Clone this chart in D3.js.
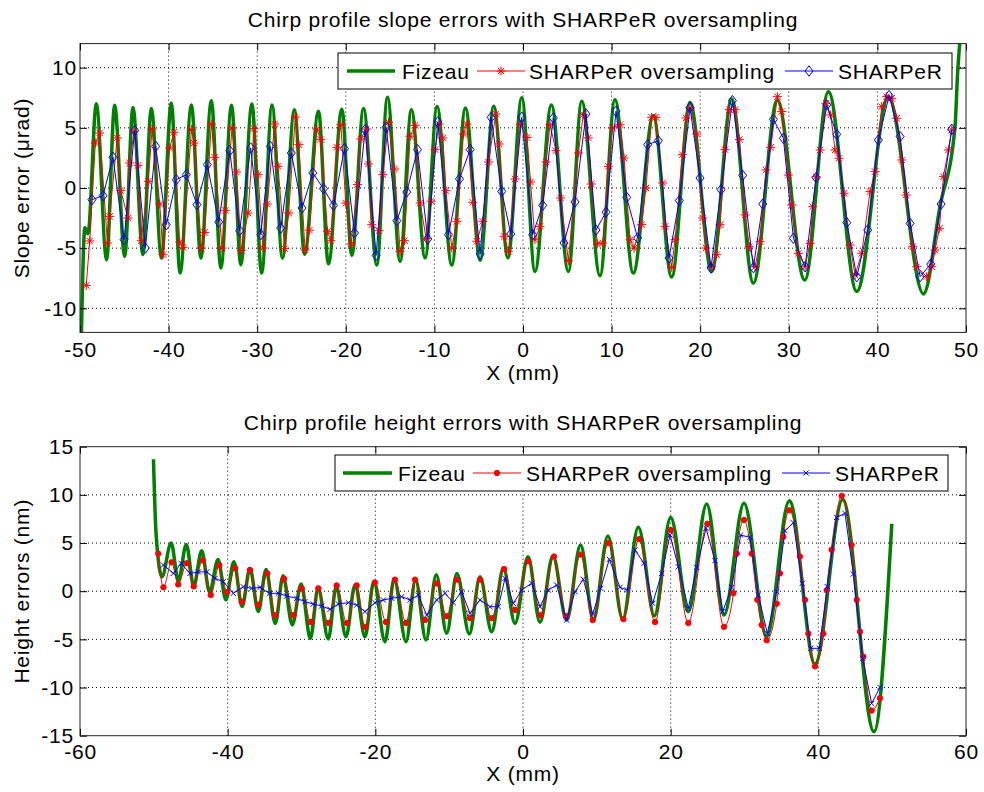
<!DOCTYPE html>
<html>
<head>
<meta charset="utf-8">
<script src="https://cdn.jsdelivr.net/npm/d3@7"></script>
<style>
  body { margin: 0; background: #fff; }
  svg text { font-family: "Liberation Sans", Arial, sans-serif; fill: #000; letter-spacing: 0.8px; }
</style>
</head>
<body>
<div id="chart-area"></div>
<script>

// ---- slope panel (top) ----
const slopeXTicks = [-50, -40, -30, -20, -10, 0, 10, 20, 30, 40, 50]
const slopeYTicks = [-10, -5, 0, 5, 10]

// Fizeau: turning points of the measured chirp [x mm, slope µrad]
const slopeFizeau = [
  [-49.85,-12.5],[-49.45,-3.3],[-49.1,-3.8],[-48.16,7.0],[-47.0,-5.96],[-46.09,6.87],[-44.96,-5.68],
  [-44.02,6.7],[-42.9,-5.54],[-41.95,6.6],[-40.8,-5.82],[-39.7,7.07],[-38.7,-7.07],[-37.43,6.9],
  [-36.35,-5.82],[-35.18,7.26],[-34.1,-6.65],[-32.9,6.87],[-31.85,-6.37],[-30.6,6.98],[-29.5,-7.07],
  [-28.33,6.9],[-27.15,-5.82],[-25.8,6.5],[-24.65,-5.5],[-23.08,6.37],[-21.96,-6.3],[-20.45,6.55],
  [-19.32,-5.6],[-18.0,6.6],[-16.5,-6.4],[-15.3,7.54],[-13.87,-6.1],[-12.6,6.5],[-11.05,-5.8],
  [-9.7,6.77],[-8.04,-6.4],[-6.5,6.64],[-4.84,-6.0],[-3.3,6.8],[-1.7,-5.8],[-0.14,7.5],[1.35,-6.93],
  [3.2,6.9],[5.12,-6.93],[6.63,7.2],[8.69,-7.3],[10.38,7.34],[12.45,-7.07],[14.7,6.0],[16.78,-7.4],
  [18.85,7.1],[21.3,-6.93],[23.55,7.4],[26.0,-7.9],[28.7,7.3],[31.8,-7.65],[34.47,8.0],[37.67,-8.6],
  [41.24,7.6],[45.2,-8.8],[47.07,-1.5],[48.76,5.1],[49.05,9.5],[49.4,13]
]

// SHARPeR oversampling samples
const slopeOversampled = [
  [-49.3,-8.1],[-48.9,-4.4],[-48.27,3.74],[-47.78,4.57],[-46.9,-4.57],[-46.65,-2.36],[-45.8,4.16],
  [-45.4,-0.22],[-44.58,-2.5],[-44.4,2.08],[-43.9,4.71],[-43.45,1.88],[-43.08,-4.38],[-42.3,0.55],
  [-41.87,4.9],[-41.0,-1.33],[-40.63,-5.54],[-39.88,3.33],[-39.4,4.63],[-38.75,-4.49],[-38.37,-4.93],
  [-37.43,4.85],[-37.13,3.74],[-36.3,-4.99],[-35.93,-3.69],[-35.18,5.32],[-34.8,2.55],[-33.97,-4.99],
  [-33.6,-1.86],[-32.84,4.99],[-32.35,1.33],[-31.79,-5.18],[-31.04,-2.08],[-30.36,4.93],[-29.9,1.11],
  [-29.35,-4.99],[-28.86,-1.33],[-28.03,5.32],[-27.65,1.8],[-26.9,-5.04],[-26.45,-2.08],[-25.7,5.9],
  [-25.3,3.6],[-24.6,-5.15],[-24.1,-3.5],[-23.27,4.9],[-22.82,4.02],[-22.07,-3.6],[-21.69,-4.38],
  [-21.0,3.38],[-20.56,5.26],[-20.0,-1.25],[-19.4,-4.65],[-18.68,0.28],[-18.31,4.07],[-17.7,4.9],
  [-17.44,2.0],[-17.07,-3.05],[-16.24,-3.55],[-15.82,1.11],[-15.18,5.46],[-14.5,1.58],[-13.87,-5.26],
  [-13.38,-4.38],[-12.74,4.3],[-12.18,5.21],[-11.6,-1.25],[-10.93,-4.21],[-10.37,-1.1],[-9.92,3.19],
  [-9.47,5.32],[-9.05,4.16],[-8.71,-0.22],[-8.04,-4.99],[-7.47,-2.77],[-6.72,4.49],[-6.34,5.32],
  [-5.67,-1.19],[-5.21,-4.43],[-4.54,-2.77],[-3.9,2.16],[-3.07,6.15],[-2.69,3.66],[-2.13,-4.02],
  [-1.64,-5.26],[-0.89,0.75],[-0.3,5.3],[0.45,4.2],[0.85,0.5],[1.35,-4.3],[1.92,-3.19],[2.6,2.16],
  [3.05,5.26],[3.72,3.1],[4.25,-0.83],[5.12,-6.04],[6.25,2.91],[6.8,6.1],[7.37,4.16],[7.7,0.33],
  [8.39,-4.65],[9.0,-4.57],[9.63,1.8],[10.12,4.99],[10.95,5.26],[11.4,2.49],[12.08,-4.3],[12.53,-4.99],
  [13.39,-3.05],[13.88,0.0],[14.52,5.87],[15.0,5.87],[15.76,0.42],[16.03,-3.19],[16.78,-6.59],
  [17.16,-4.3],[17.98,2.77],[18.4,5.82],[18.85,6.65],[19.6,4.49],[20.28,-2.49],[20.65,-4.99],
  [21.3,-6.51],[21.86,-5.54],[22.24,-3.05],[22.8,3.19],[23.29,6.51],[23.93,6.51],[24.42,4.02],
  [25.06,-2.24],[25.55,-4.88],[26.2,-6.54],[26.76,-4.46],[27.43,1.5],[27.96,3.38],[28.71,7.59],
  [29.2,6.35],[29.95,1.08],[30.33,-1.41],[31.08,-5.43],[31.84,-6.54],[32.4,-4.6],[32.7,-1.55],
  [33.08,0.94],[33.53,3.16],[34.2,7.04],[34.73,6.07],[35.22,3.16],[35.67,2.47],[36.24,-0.44],
  [36.91,-4.74],[37.48,-7.23],[38.23,-5.43],[39.17,-0.3],[39.74,1.36],[40.49,6.76],[41.05,7.59],
  [41.62,7.45],[42.18,5.79],[42.75,2.33],[43.24,-0.58],[43.99,-4.88],[44.44,-6.54],[45.57,-7.37],
  [46.13,-6.54],[46.51,-5.15],[47.0,-3.35],[47.45,0.94],[48.01,3.16],[48.39,4.82]
]

// SHARPeR (no oversampling) samples
const slopeSharper = [
  [-48.65,-0.97],[-47.4,-0.64],[-46.28,2.55],[-45.03,-4.29],[-43.83,4.79],[-42.63,-4.99],[-41.46,3.46],
  [-40.26,-3.05],[-39.13,0.69],[-38.0,1.11],[-36.8,-1.39],[-35.63,1.94],[-34.35,-2.83],[-33.1,3.1],
  [-31.98,-3.55],[-30.74,3.33],[-29.6,-3.88],[-28.52,3.46],[-27.35,-3.33],[-26.15,2.91],[-24.94,-1.66],
  [-23.72,1.25],[-22.52,-0.06],[-21.39,-1.44],[-20.15,3.27],[-19.02,-3.74],[-17.82,4.85],[-16.58,-5.6],
  [-15.45,5.04],[-14.24,-2.72],[-13.12,-0.33],[-11.91,3.19],[-10.75,-4.24],[-9.62,5.49],[-8.41,-3.88],
  [-7.17,0.75],[-5.97,3.19],[-4.84,-5.49],[-3.6,5.87],[-2.4,-0.28],[-1.38,-3.82],[-0.14,5.87],
  [1.09,-3.88],[2.22,-1.44],[3.42,5.82],[4.63,-4.57],[5.87,-1.16],[7.11,6.15],[8.24,-3.49],[9.37,-2.0],
  [10.5,6.37],[11.7,-0.78],[12.94,-4.16],[14.07,3.6],[15.27,3.93],[16.48,-5.82],[17.64,-1.05],
  [18.85,6.7],[19.98,0.83],[21.22,-6.65],[22.35,-0.14],[23.63,7.26],[24.79,1.05],[26.0,-6.62],
  [27.06,-1.33],[28.26,5.71],[29.39,4.13],[30.52,-4.18],[31.84,-6.54],[33.08,0.86],[34.28,6.9],
  [35.41,4.46],[36.54,-2.88],[37.67,-7.37],[38.91,-3.49],[40.11,3.99],[41.32,7.68],[42.56,4.27],
  [43.69,-2.94],[44.82,-7.37],[46.02,-6.32],[47.19,-1.33],[48.39,4.88]
]

// ---- height panel (bottom) ----
const heightXTicks = [-60, -40, -20, 0, 20, 40, 60]
const heightYTicks = [-15, -10, -5, 0, 5, 10, 15]

const heightFizeau = [
  [-50.05,13.7],[-49.7,6.0],[-48.9,1.5],[-47.66,5.0],[-46.67,1.1],[-45.6,4.85],[-44.6,0.5],[-43.52,4.2],
  [-42.45,-0.1],[-41.3,3.3],[-40.25,-0.9],[-39.15,3.07],[-38.05,-1.6],[-36.98,2.35],[-35.85,-2.1],
  [-34.8,2.25],[-33.55,-3.34],[-32.5,1.6],[-31.25,-3.5],[-30.05,0.75],[-28.8,-4.9],[-27.75,0.35],
  [-26.37,-4.95],[-25.3,0.45],[-23.97,-4.72],[-22.75,0.64],[-21.4,-4.72],[-20.2,1.0],[-18.69,-5.24],
  [-17.45,1.3],[-15.85,-5.24],[-14.55,1.2],[-13.14,-5.07],[-11.75,1.7],[-10.34,-4.37],[-8.95,1.85],
  [-7.27,-4.44],[-5.82,1.5],[-4.24,-4.2],[-2.66,2.4],[-1.08,-3.34],[0.68,3.58],[2.3,-3.23],[4.05,3.65],
  [5.91,-3.0],[7.8,4.8],[9.53,-2.99],[11.5,5.73],[13.5,-2.92],[15.62,6.65],[17.79,-2.57],[20.0,7.66],
  [22.39,-2.12],[24.88,9.05],[27.22,-2.47],[29.93,9.12],[33.0,-4.72],[36.07,9.4],[39.55,-7.56],
  [43.3,9.53],[47.54,-14.58],[49.95,7.0]
]

const heightOversampled = [
  [-49.4,3.9],[-48.7,0.4],[-47.6,3.0],[-46.7,0.7],[-45.55,2.9],[-44.6,0.5],[-43.4,3.2],[-42.3,-0.4],
  [-41.13,2.7],[-40.1,-0.1],[-39.0,2.4],[-38.1,-1.1],[-36.98,2.2],[-35.85,-1.4],[-34.63,1.85],
  [-33.6,-2.5],[-32.37,1.3],[-31.1,-2.5],[-29.98,0.3],[-28.76,-3.2],[-27.72,0.3],[-26.37,-3.3],
  [-25.24,0.6],[-23.88,-3.3],[-22.53,0.6],[-21.4,-3.7],[-20.05,0.9],[-18.55,-3.2],[-17.34,1.2],
  [-15.85,-3.3],[-14.63,1.2],[-13.27,-3.0],[-11.69,0.8],[-10.34,-2.6],[-8.98,1.2],[-7.18,-2.8],
  [-5.82,1.2],[-4.24,-2.8],[-2.57,2.3],[-1.08,-1.95],[0.72,3.1],[2.39,-2.5],[4.2,3.6],[5.82,-2.6],
  [7.8,3.8],[9.44,-3.0],[11.56,5.0],[13.6,-2.9],[15.71,5.4],[17.88,-3.2],[20.0,6.35],[22.39,-3.3],
  [24.97,7.0],[27.22,-3.7],[28.5,-0.2],[28.94,3.9],[29.93,7.4],[30.97,3.9],[31.74,-0.9],[32.32,-3.5],
  [33.0,-5.1],[34.36,-1.3],[34.8,1.85],[35.26,5.66],[36.07,8.4],[37.5,3.6],[38.2,-0.9],[38.65,-4.4],
  [39.55,-7.8],[40.68,-4.4],[41.13,0.1],[41.8,4.3],[43.16,9.9],[44.5,4.8],[45.2,-0.9],[45.64,-4.2],
  [46.1,-6.8],[47.22,-12.4],[48.35,-11.1]
]

const heightSharper = [
  [-48.7,2.72],[-47.36,1.85],[-46.3,2.89],[-45.1,1.85],[-43.97,2.0],[-42.84,2.0],[-41.7,1.33],
  [-40.59,0.99],[-39.23,-0.22],[-37.88,0.46],[-36.75,0.3],[-35.62,0.4],[-34.36,-0.22],[-33.14,-0.22],
  [-32.0,-0.5],[-30.65,-0.74],[-29.53,-1.09],[-28.4,-1.33],[-27.27,-1.54],[-26.14,-1.88],[-25.0,-1.33],
  [-23.66,-1.19],[-22.53,-1.44],[-21.4,-2.12],[-20.05,-1.19],[-18.92,-0.91],[-17.79,-0.74],
  [-16.43,-0.57],[-15.3,-0.91],[-14.18,-0.4],[-13.05,-2.47],[-11.69,-0.91],[-10.56,-0.22],
  [-9.44,-1.19],[-8.31,-0.05],[-7.18,-2.3],[-5.82,-0.91],[-4.47,-1.61],[-3.34,-1.61],[-2.44,1.33],
  [-1.31,-1.26],[-0.18,0.12],[1.17,0.82],[2.3,-1.61],[3.43,0.12],[4.56,0.64],[5.91,-3.0],[7.04,-0.05],
  [8.17,1.23],[9.44,-2.37],[10.52,0.3],[11.69,3.31],[13.14,0.4],[14.13,0.12],[15.17,4.28],[16.39,2.89],
  [17.56,-1.26],[18.78,1.85],[19.91,5.83],[21.04,2.54],[22.39,-1.78],[23.52,2.47],[24.79,6.53],
  [26.0,3.17],[27.04,-2.12],[28.26,0.4],[29.48,5.83],[30.74,5.59],[31.87,-0.4],[33.09,-4.38],
  [34.36,-0.05],[35.49,6.28],[36.61,7.11],[37.83,0.82],[38.96,-5.93],[40.14,-5.93],[41.22,0.47],
  [42.48,7.66],[43.61,8.08],[44.74,1.78],[46.0,-6.97],[47.22,-11.65],[48.35,-9.98]
]

const seriesNames = ['Fizeau', 'SHARPeR oversampling', 'SHARPeR']

// marker shapes (MATLAB-like)
const starMark = 'M-4.5,0H4.5M0,-4.5V4.5M-3.2,-3.2L3.2,3.2M-3.2,3.2L3.2,-3.2'
const diamondMark = 'M0,-5.2L4,0L0,5.2L-4,0Z'
const crossMark = 'M-2.6,-2.6L2.6,2.6M-2.6,2.6L2.6,-2.6'
const dotMark = 'M2.7,0A2.7,2.7,0,1,1,-2.7,0A2.7,2.7,0,1,1,2.7,0Z'

const svg = d3.select('#chart-area')
              .append('svg')
              .attr('width', 984)
              .attr('height', 792)

const panels = [
  {
    id: 'slope',
    box: { left: 80, right: 966, top: 43.6, bottom: 332.4 },
    xDomain: [-50, 50], yDomain: [-12, 12],
    xTicks: slopeXTicks, yTicks: slopeYTicks,
    xPad: 10, yPad: 3,
    title: 'Chirp profile slope errors with SHARPeR oversampling', titleY: 26.5,
    xLabelY: 380, yLabel: 'Slope error (\u03bcrad)', yLabelX: 29,
    series: [
      { data: slopeFizeau, color: '#008000', width: 3.5, curve: d3.curveMonotoneX },
      { data: slopeOversampled, color: '#ff0000', width: 1, curve: d3.curveLinear, mark: starMark },
      { data: slopeSharper, color: '#0000ff', width: 1, curve: d3.curveLinear, mark: diamondMark }
    ],
    legend: { x: 338, y: 53, w: 614, h: 36,
              items: [ { x1: 347, x2: 395, tx: 402 }, { x1: 477, x2: 525, tx: 529 }, { x1: 785, x2: 833, tx: 838 } ] }
  },
  {
    id: 'height',
    box: { left: 80, right: 966, top: 446.7, bottom: 735.7 },
    xDomain: [-60, 60], yDomain: [-15, 15],
    xTicks: heightXTicks, yTicks: heightYTicks,
    xPad: 8, yPad: 6,
    title: 'Chirp profile height errors with SHARPeR oversampling', titleY: 430,
    xLabelY: 781, yLabel: 'Height errors (nm)', yLabelX: 29,
    series: [
      { data: heightFizeau, color: '#008000', width: 3.5, curve: d3.curveMonotoneX },
      { data: heightOversampled, color: '#ff0000', width: 1, curve: d3.curveMonotoneX, mark: dotMark, fill: true },
      { data: heightSharper, color: '#0000ff', width: 1, curve: d3.curveLinear, mark: crossMark }
    ],
    legend: { x: 335, y: 455, w: 613, h: 36,
              items: [ { x1: 343, x2: 392, tx: 398 }, { x1: 473, x2: 521, tx: 526 }, { x1: 782, x2: 830, tx: 835 } ] }
  }
]

const drawPanel = p => {
  const b = p.box
  const x = d3.scaleLinear().domain(p.xDomain).range([b.left, b.right])
  const y = d3.scaleLinear().domain(p.yDomain).range([b.bottom, b.top])
  const g = svg.append('g').attr('class', p.id)

  // dotted grid
  g.selectAll('.vgrid')
   .data(p.xTicks.filter(v => v > p.xDomain[0] && v < p.xDomain[1]))
   .join('line')
   .attr('x1', d => x(d)).attr('x2', d => x(d))
   .attr('y1', b.top).attr('y2', b.bottom)
   .attr('stroke', '#000').attr('stroke-dasharray', '1,3')

  g.selectAll('.hgrid')
   .data(p.yTicks.filter(v => v > p.yDomain[0] && v < p.yDomain[1]))
   .join('line')
   .attr('x1', b.left).attr('x2', b.right)
   .attr('y1', d => y(d)).attr('y2', d => y(d))
   .attr('stroke', '#000').attr('stroke-dasharray', '1,3')

  svg.append('clipPath').attr('id', 'clip-' + p.id)
     .append('rect')
     .attr('x', b.left).attr('y', b.top)
     .attr('width', b.right - b.left).attr('height', b.bottom - b.top)

  const plot = g.append('g').attr('clip-path', 'url(#clip-' + p.id + ')')

  p.series.forEach(s => {
    const line = d3.line().x(d => x(d[0])).y(d => y(d[1])).curve(s.curve)
    plot.append('path')
        .attr('d', line(s.data))
        .attr('fill', 'none')
        .attr('stroke', s.color)
        .attr('stroke-width', s.width)
        .attr('stroke-linejoin', 'round')

    if (s.mark) {
      plot.append('g').selectAll('path')
          .data(s.data)
          .join('path')
          .attr('d', s.mark)
          .attr('transform', d => 'translate(' + x(d[0]) + ',' + y(d[1]) + ')')
          .attr('fill', s.fill ? s.color : 'none')
          .attr('stroke', s.color)
          .attr('stroke-width', 1)
    }
  })

  // axes, ticks pointing inward on all four sides; plain hyphen for negatives
  const fmt = d => String(d)
  const styleAxis = a => {
    a.select('.domain').remove()
    a.attr('font-size', 21).attr('color', '#000')
  }
  g.append('g').attr('transform', 'translate(0,' + b.bottom + ')')
   .call(d3.axisBottom(x).tickValues(p.xTicks).tickFormat(fmt).tickSizeInner(-7).tickSizeOuter(0).tickPadding(p.xPad))
   .call(styleAxis)
  g.append('g').attr('transform', 'translate(0,' + b.top + ')')
   .call(d3.axisTop(x).tickValues(p.xTicks).tickSizeInner(-7).tickSizeOuter(0).tickFormat(''))
   .call(styleAxis)
  g.append('g').attr('transform', 'translate(' + b.left + ',0)')
   .call(d3.axisLeft(y).tickValues(p.yTicks).tickFormat(fmt).tickSizeInner(-7).tickSizeOuter(0).tickPadding(p.yPad))
   .call(styleAxis)
  g.append('g').attr('transform', 'translate(' + b.right + ',0)')
   .call(d3.axisRight(y).tickValues(p.yTicks).tickSizeInner(-7).tickSizeOuter(0).tickFormat(''))
   .call(styleAxis)

  g.append('rect')
   .attr('x', b.left).attr('y', b.top)
   .attr('width', b.right - b.left).attr('height', b.bottom - b.top)
   .attr('fill', 'none').attr('stroke', '#222')

  // title and labels
  g.append('text')
   .attr('x', (b.left + b.right) / 2).attr('y', p.titleY)
   .attr('text-anchor', 'middle').attr('font-size', '21px')
   .text(p.title)

  g.append('text')
   .attr('x', (b.left + b.right) / 2).attr('y', p.xLabelY)
   .attr('text-anchor', 'middle').attr('font-size', '21px')
   .text('X (mm)')

  g.append('text')
   .attr('transform', 'translate(' + p.yLabelX + ',' + (b.top + b.bottom) / 2 + ') rotate(-90)')
   .attr('text-anchor', 'middle').attr('font-size', '21px')
   .text(p.yLabel)

  // legend
  const L = p.legend
  const lg = g.append('g')
  lg.append('rect')
    .attr('x', L.x).attr('y', L.y).attr('width', L.w).attr('height', L.h)
    .attr('fill', '#fff').attr('stroke', '#000')
  const cy = L.y + L.h / 2
  L.items.forEach((it, i) => {
    const s = p.series[i]
    lg.append('line')
      .attr('x1', it.x1).attr('x2', it.x2).attr('y1', cy).attr('y2', cy)
      .attr('stroke', s.color).attr('stroke-width', s.width)
    if (s.mark) {
      lg.append('path')
        .attr('d', s.mark)
        .attr('transform', 'translate(' + (it.x1 + it.x2) / 2 + ',' + cy + ')')
        .attr('fill', s.fill ? s.color : 'none')
        .attr('stroke', s.color)
    }
    lg.append('text')
      .attr('x', it.tx).attr('y', cy + 7.5)
      .attr('font-size', '21px')
      .text(seriesNames[i])
  })
}

panels.forEach(drawPanel)
</script>
</body>
</html>
